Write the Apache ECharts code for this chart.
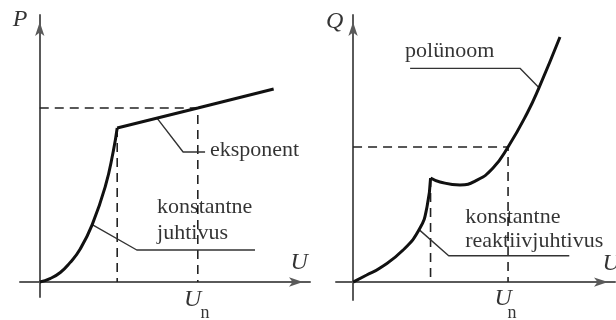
<!DOCTYPE html>
<html>
<head>
<meta charset="utf-8">
<script src="https://cdn.jsdelivr.net/npm/echarts@6/dist/echarts.min.js"></script>
<style>
  html, body { margin: 0; padding: 0; background: #fff; }
  #chart { width: 616px; height: 320px; }
</style>
</head>
<body>
<div id="chart"></div>
<script>
// Static load characteristics, voltage U in per-unit of the nominal voltage Un.
// Active power P(U): constant conductance below the knee, exponential model above it.
const pLowU = [0, 0.065, 0.13, 0.19, 0.256, 0.332, 0.415, 0.465, 0.49];
const pLowP = [0, 0.02, 0.055, 0.11, 0.19, 0.33, 0.55, 0.75, 0.885];
const pExpU = [0.49, 1.0, 1.48];
const pExpP = [0.885, 1.0, 1.109];

// Reactive power Q(U): constant reactive conductance below the knee, polynomial above it.
const qLowU = [0, 0.088, 0.174, 0.323, 0.432, 0.477, 0.5];
const qLowQ = [0, 0.052, 0.104, 0.237, 0.4, 0.556, 0.77];
const qPolyU = [0.5, 0.561, 0.69, 0.8, 0.903, 1.0, 1.123, 1.2, 1.335];
const qPolyQ = [0.77, 0.741, 0.719, 0.755, 0.844, 1.0, 1.25, 1.44, 1.815];

// Nominal operating point and knee voltages
const nominalU = 1;
const pKneeU = 0.49, pKneeP = 0.885;
const qKneeU = 0.5, qKneeQ = 0.77;

// Text
const axisNames = { p: 'P', q: 'Q', u: 'U', n: 'n' };
const noteExp = 'eksponent';
const noteConstG = 'konstantne\njuhtivus';
const notePoly = 'polünoom';
const noteConstB = 'konstantne\nreaktiivjuhtivus';

const SERIF = '"Liberation Serif", "DejaVu Serif", serif';
const curveStyle = { color: '#111', width: 3 };
const dashStyle = { color: '#222', width: 1.6, type: [9, 6] };
const leaderStyle = { color: '#333', width: 1.4 };

function pairs(xs, ys) { return xs.map((x, i) => [x, ys[i]]); }

function line(g, data, style, smooth, z) {
  return {
    type: 'line', xAxisIndex: g, yAxisIndex: g, data: data,
    symbol: 'none', showSymbol: false, smooth: smooth || false,
    lineStyle: style, silent: true, z: z || 2, animation: false
  };
}

// Text annotations anchored in data coordinates of each panel
function texts(g, notes) {
  return {
    type: 'scatter', xAxisIndex: g, yAxisIndex: g, clip: false,
    symbolSize: 0.1, itemStyle: { color: 'transparent' }, silent: true, z: 5,
    animation: false,
    data: notes.map(n => ({
      value: n.at,
      label: Object.assign({
        show: true,
        position: n.center ? 'inside' : 'right',
        distance: 0,
        formatter: n.text,
        color: '#000',
        fontFamily: SERIF,
        fontSize: 22,
        align: n.center ? 'center' : 'left',
        verticalAlign: 'middle'
      }, n.style || {})
    }))
  };
}

const italicBig = { fontSize: 24, fontStyle: 'italic' };
const subStyle = { fontSize: 18 };

function axes(g, xr, yr) {
  const line = {
    onZero: true, symbol: ['none', 'arrow'], symbolSize: [7, 14],
    symbolOffset: [0, -7], lineStyle: { color: '#5a5a5a', width: 2 }
  };
  return {
    x: { type: 'value', gridIndex: g, min: xr[0], max: xr[1], axisLine: line,
         axisTick: { show: false }, axisLabel: { show: false }, splitLine: { show: false } },
    y: { type: 'value', gridIndex: g, min: yr[0], max: yr[1], axisLine: line,
         axisTick: { show: false }, axisLabel: { show: false }, splitLine: { show: false } }
  };
}

const leftAxes = axes(0, [-0.125, 1.71], [-0.086, 1.534]);
const rightAxes = axes(1, [-0.11, 1.69], [-0.133, 1.978]);

const option = {
  backgroundColor: '#fff',
  animation: false,
  grid: [
    { left: 20, top: 15, width: 290, height: 282 },
    { left: 336, top: 15, width: 279, height: 285 }
  ],
  xAxis: [leftAxes.x, rightAxes.x],
  yAxis: [leftAxes.y, rightAxes.y],
  series: [
    // ---- P(U) panel ----
    line(0, [[0, 1], [nominalU, 1], [nominalU, 0]], dashStyle),
    line(0, [[pKneeU, pKneeP], [pKneeU, 0]], dashStyle),
    line(0, pairs(pLowU, pLowP), curveStyle, 0.5, 3),
    line(0, pairs(pExpU, pExpP), curveStyle, false, 3),
    line(0, [[0.742, 0.942], [0.907, 0.747], [1.046, 0.747]], leaderStyle),
    line(0, [[0.332, 0.33], [0.614, 0.184], [1.362, 0.184]], leaderStyle),
    texts(0, [
      { text: noteExp, at: [1.077, 0.759] },
      { text: noteConstG, at: [0.742, 0.354], style: { lineHeight: 26 } },
      { text: axisNames.p, at: [-0.125, 1.506], center: true, style: italicBig },
      { text: axisNames.u, at: [1.641, 0.109], center: true, style: italicBig },
      { text: axisNames.u, at: [0.967, -0.103], center: true, style: italicBig },
      { text: axisNames.n, at: [1.046, -0.178], center: true, style: subStyle }
    ]),
    // ---- Q(U) panel ----
    line(1, [[0, 1], [nominalU, 1], [nominalU, 0]], dashStyle),
    line(1, [[qKneeU, qKneeQ], [qKneeU, 0]], dashStyle),
    line(1, pairs(qLowU, qLowQ), curveStyle, 0.5, 3),
    line(1, pairs(qPolyU, qPolyQ), curveStyle, 0.5, 3),
    line(1, [[0.368, 1.583], [1.077, 1.583], [1.2, 1.44]], leaderStyle),
    line(1, [[0.424, 0.39], [0.617, 0.195], [1.395, 0.195]], leaderStyle),
    texts(1, [
      { text: notePoly, at: [0.335, 1.708] },
      { text: noteConstB, at: [0.723, 0.388], style: { lineHeight: 24 } },
      { text: axisNames.q, at: [-0.119, 1.93], center: true, style: italicBig },
      { text: axisNames.u, at: [1.665, 0.133], center: true, style: italicBig },
      { text: axisNames.u, at: [0.968, -0.122], center: true, style: italicBig },
      { text: axisNames.n, at: [1.026, -0.23], center: true, style: subStyle }
    ])
  ]
};

const chart = echarts.init(document.getElementById('chart'), null, { renderer: 'canvas' });
chart.setOption(option);
</script>
</body>
</html>
